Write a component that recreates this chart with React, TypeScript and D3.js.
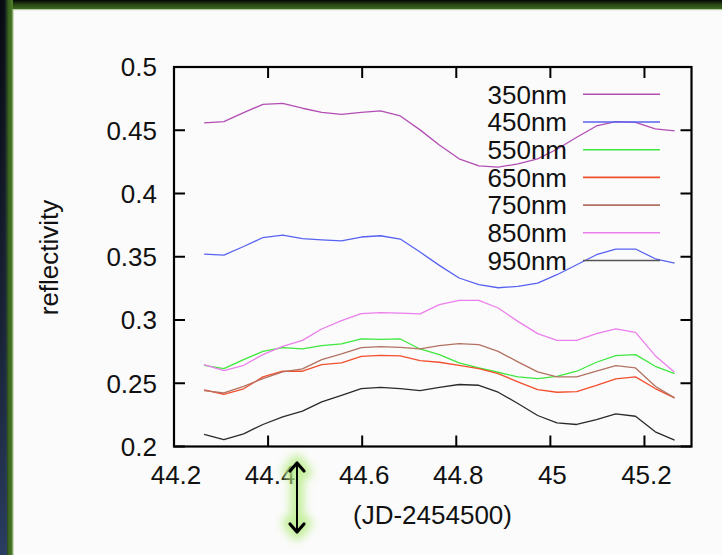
import React from "react";
import * as d3 from "d3";

const times = [44.264, 44.306, 44.348, 44.389, 44.431, 44.473, 44.514, 44.556, 44.598, 44.639, 44.681, 44.723, 44.764, 44.806, 44.848, 44.889, 44.931, 44.973, 45.014, 45.056, 45.098, 45.139, 45.181, 45.223, 45.264];

const s350 = [0.4558, 0.4568, 0.4639, 0.4705, 0.4713, 0.4674, 0.4642, 0.4626, 0.4642, 0.4653, 0.4613, 0.4503, 0.4384, 0.4274, 0.4218, 0.4208, 0.4234, 0.4274, 0.4350, 0.4445, 0.4534, 0.4568, 0.4563, 0.4511, 0.4495];
const s450 = [0.3521, 0.3513, 0.3581, 0.3652, 0.3671, 0.3644, 0.3634, 0.3626, 0.3656, 0.3666, 0.3640, 0.3537, 0.3432, 0.3332, 0.3279, 0.3255, 0.3266, 0.3292, 0.3358, 0.3437, 0.3516, 0.3561, 0.3561, 0.3484, 0.3450];
const s550 = [0.2642, 0.2616, 0.2687, 0.2752, 0.2782, 0.2771, 0.2797, 0.2811, 0.2850, 0.2847, 0.2850, 0.2771, 0.2726, 0.2661, 0.2621, 0.2587, 0.2550, 0.2537, 0.2555, 0.2595, 0.2666, 0.2718, 0.2726, 0.2634, 0.2576];
const s650 = [0.2448, 0.2413, 0.2456, 0.2550, 0.2595, 0.2595, 0.2647, 0.2661, 0.2713, 0.2721, 0.2716, 0.2679, 0.2666, 0.2642, 0.2616, 0.2576, 0.2511, 0.2450, 0.2429, 0.2434, 0.2484, 0.2534, 0.2550, 0.2458, 0.2384];
const s750 = [0.2442, 0.2424, 0.2476, 0.2537, 0.2590, 0.2613, 0.2687, 0.2732, 0.2782, 0.2790, 0.2784, 0.2771, 0.2797, 0.2813, 0.2805, 0.2752, 0.2669, 0.2590, 0.2550, 0.2550, 0.2595, 0.2640, 0.2621, 0.2476, 0.2384];
const s850 = [0.2647, 0.2600, 0.2642, 0.2726, 0.2792, 0.2839, 0.2929, 0.2995, 0.3050, 0.3058, 0.3055, 0.3048, 0.3121, 0.3155, 0.3155, 0.3095, 0.2989, 0.2892, 0.2839, 0.2839, 0.2892, 0.2929, 0.2902, 0.2718, 0.2587];
const s950 = [0.2095, 0.2055, 0.2100, 0.2174, 0.2235, 0.2279, 0.2353, 0.2405, 0.2458, 0.2468, 0.2458, 0.2442, 0.2468, 0.2490, 0.2484, 0.2429, 0.2340, 0.2245, 0.2187, 0.2174, 0.2213, 0.2258, 0.2239, 0.2116, 0.2050];

const seriesNames = ["350nm", "450nm", "550nm", "650nm", "750nm", "850nm", "950nm"];
const seriesValues = [s350, s450, s550, s650, s750, s850, s950];
const seriesColors = ["#b24eb4", "#5862f2", "#3fe63f", "#f24f2e", "#b27262", "#ec7eec", "#2a2a2a"];

const xTicks = [44.2, 44.4, 44.6, 44.8, 45, 45.2];
const yTicks = [0.2, 0.25, 0.3, 0.35, 0.4, 0.45, 0.5];

const FONT = "'Liberation Sans', Arial, Helvetica, sans-serif";

export default function App() {
  const W = 722, H = 555;
  const left = 174, right = 691.5, top = 67, bottom = 446.5;
  const x = d3.scaleLinear().domain([44.2, 45.3]).range([left, right]);
  const y = d3.scaleLinear().domain([0.2, 0.5]).range([bottom, top]);
  const line = d3.line<[number, number]>().x(d => x(d[0])).y(d => y(d[1]));
  const fmtY = (v: number) => String(+v.toFixed(2));
  const fmtX = (v: number) => String(+v.toFixed(1));
  const tl = 11;
  const legX = 567, legL1 = 583, legL2 = 660, legY0 = 94.3, legDy = 27.7;
  const ax = 297, ay1 = 462, ay2 = 533;

  return (
    <svg width={W} height={H} style={{ position: "absolute", left: 0, top: 0, display: "block" }} fontFamily={FONT}>
      <defs>
        <linearGradient id="topg" x1="0" y1="0" x2="0" y2="1">
          <stop offset="0" stopColor="#050805" />
          <stop offset="0.5" stopColor="#2a4a14" />
          <stop offset="1" stopColor="#436f22" />
        </linearGradient>
        <linearGradient id="leftg" x1="0" y1="0" x2="1" y2="0">
          <stop offset="0" stopColor="#06080c" />
          <stop offset="0.35" stopColor="#0c1018" />
          <stop offset="0.65" stopColor="#3a6320" />
          <stop offset="1" stopColor="#4f7f2a" />
        </linearGradient>
        <linearGradient id="navy" x1="0" y1="0" x2="0" y2="1">
          <stop offset="0" stopColor="#24344f" stopOpacity="0" />
          <stop offset="0.6" stopColor="#24344f" stopOpacity="0.6" />
          <stop offset="1" stopColor="#2c4066" stopOpacity="0.95" />
        </linearGradient>
        <filter id="glow" x="-100%" y="-50%" width="300%" height="200%">
          <feGaussianBlur stdDeviation="4.5" />
        </filter>
      </defs>
      <rect x={0} y={0} width={W} height={H} fill="#fbfbfb" />
      <rect x={0} y={0} width={W} height={10} fill="url(#topg)" />
      <rect x={0} y={9} width={W} height={1.2} fill="#b9cba8" />
      <rect x={0} y={0} width={13} height={H} fill="url(#leftg)" />
      <rect x={0} y={0} width={7} height={H} fill="url(#navy)" />
      <rect x={12.5} y={9} width={1.2} height={H} fill="#b9cba8" />

      {/* data lines */}
      {seriesValues.map((vals, k) => (
        <path key={seriesNames[k]}
          d={line(times.map((t, i) => [t, vals[i]] as [number, number])) || ""}
          fill="none" stroke={seriesColors[k]} strokeWidth={1.3} strokeLinejoin="round" />
      ))}

      {/* axes frame and ticks */}
      <rect x={left} y={top} width={right - left} height={bottom - top} fill="none" stroke="#000" strokeWidth={2.2} />
      {yTicks.map(v => (
        <g key={"y" + v}>
          <line x1={left} x2={left + tl} y1={y(v)} y2={y(v)} stroke="#000" strokeWidth={2} />
          <line x1={right} x2={right - tl} y1={y(v)} y2={y(v)} stroke="#000" strokeWidth={2} />
          <text x={157} y={y(v)} dy="0.36em" textAnchor="end" fontSize={26} fill="#111">{fmtY(v)}</text>
        </g>
      ))}
      {xTicks.map(v => (
        <g key={"x" + v}>
          <line x1={x(v)} x2={x(v)} y1={bottom} y2={bottom - tl} stroke="#000" strokeWidth={2} />
          <line x1={x(v)} x2={x(v)} y1={top} y2={top + tl} stroke="#000" strokeWidth={2} />
          <text x={x(v) + 2} y={484} textAnchor="middle" fontSize={26} fill="#111">{fmtX(v)}</text>
        </g>
      ))}

      {/* axis labels */}
      <text transform={`translate(58,257.5) rotate(-90)`} textAnchor="middle" fontSize={26} fill="#111">reflectivity</text>
      <text x={432.5} y={523.5} textAnchor="middle" fontSize={26} fill="#111">(JD-2454500)</text>

      {/* legend */}
      {seriesNames.map((n, k) => (
        <g key={"leg" + n}>
          <text x={legX} y={legY0 + k * legDy} dy="0.36em" textAnchor="end" fontSize={26} fill="#111">{n}</text>
          <line x1={legL1} x2={legL2} y1={legY0 + k * legDy} y2={legY0 + k * legDy}
            stroke={k === 6 ? "#555" : seriesColors[k]} strokeWidth={1.6} />
        </g>
      ))}

      {/* double arrow with green glow */}
      <g>
        <g filter="url(#glow)" stroke="#b8ec86" strokeWidth={14} fill="none" strokeLinecap="round" strokeLinejoin="round" opacity={0.8}>
          <line x1={ax} x2={ax} y1={ay1} y2={ay2} />
          <polyline points={`${ax - 8},${ay1 + 10} ${ax},${ay1} ${ax + 8},${ay1 + 10}`} />
          <polyline points={`${ax - 8},${ay2 - 10} ${ax},${ay2} ${ax + 8},${ay2 - 10}`} />
        </g>
        <g stroke="#000" fill="none" strokeLinecap="round" strokeLinejoin="round">
          <line x1={ax} x2={ax} y1={ay1 + 1} y2={ay2 - 1} strokeWidth={2} />
          <polyline points={`${ax - 7},${ay1 + 9} ${ax},${ay1 + 1} ${ax + 7},${ay1 + 9}`} strokeWidth={3.2} />
          <polyline points={`${ax - 7},${ay2 - 9} ${ax},${ay2 - 1} ${ax + 7},${ay2 - 9}`} strokeWidth={3.2} />
        </g>
      </g>
    </svg>
  );
}
